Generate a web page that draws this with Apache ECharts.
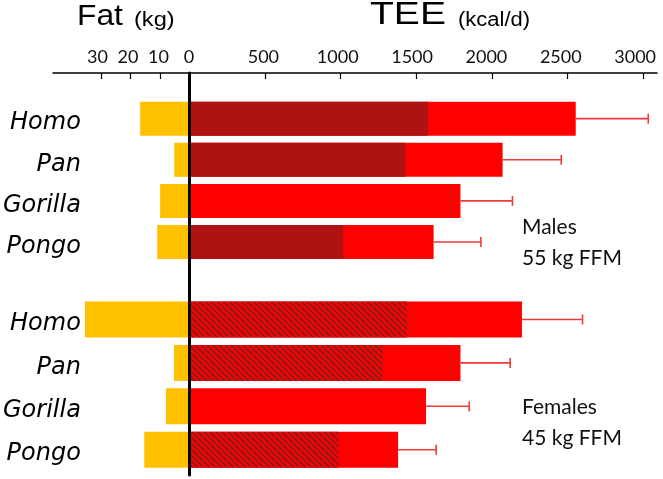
<!DOCTYPE html>
<html>
<head>
<meta charset="utf-8">
<script src="https://cdn.jsdelivr.net/npm/echarts@6/dist/echarts.min.js"></script>
<style>html,body{margin:0;padding:0;background:#fff}#c{width:663px;height:479px}</style>
</head>
<body>
<div id="c"></div>
<script>
// ---- data ----
const categories = ['Homo', 'Pan', 'Gorilla', 'Pongo'];
const maleFat = [17.0, 5.4, 10.2, 11.2];
const maleTotal = [2553, 2069, 1790, 1612];
const maleDark = [1575, 1425, null, 1013];
const maleErrHigh = [3033, 2457, 2134, 1925];
const femaleFat = [35.8, 5.5, 8.2, 15.6];
const femaleTotal = [2197, 1790, 1562, 1377];
const femaleDark = [1436, 1275, null, 983];
const femaleErrHigh = [2598, 2119, 1848, 1629];
const teeTicks = [0, 500, 1000, 1500, 2000, 2500, 3000];
const fatTicks = [10, 20, 30];

// ---- scales (shared across grids) ----
const TEE_MIN = -902, TEE_MAX = 3091;
const FAT_MIN = -159, FAT_MAX = 46.4;
// tick labels in the source sit on a slightly compressed scale
const TEE_LBL_MIN = -914.6, TEE_LBL_MAX = 3147;
const FAT_LBL_MIN = -153.4, FAT_LBL_MAX = 44.6;

const FAT_COLOR = '#FFC000';
const RED = '#FF0000';
const DARK = '#AD1313';
const ERR_COLOR = '#F03A3A';

// hatch pattern for female dark portions
const tile = document.createElement('canvas');
tile.width = 6; tile.height = 6;
(function () {
  const g = tile.getContext('2d');
  g.fillStyle = RED; g.fillRect(0, 0, 6, 6);
  g.strokeStyle = '#8C1C1C'; g.lineWidth = 2.0;
  for (const k of [-6, 0, 6]) {
    g.beginPath(); g.moveTo(k, 0); g.lineTo(k + 6, 6); g.stroke();
  }
})();
const hatch = { image: tile, repeat: 'repeat' };

const tickFont = { fontFamily: 'Lato', fontSize: 18, color: '#111', formatter: v => String(v) };
const catLabel = {
  margin: -27,
  formatter: v => '{t|' + v + '}',
  rich: { t: { fontFamily: 'DejaVu Sans', fontStyle: 'italic', fontSize: 24, color: '#000', padding: [9, 0, 0, 0] } }
};

function hiddenX(grid, fat) {
  return fat
    ? { type: 'value', gridIndex: grid, show: false, inverse: true, min: FAT_MIN, max: FAT_MAX }
    : { type: 'value', gridIndex: grid, show: false, min: TEE_MIN, max: TEE_MAX };
}
function catY(grid) {
  return {
    type: 'category', gridIndex: grid, data: categories, inverse: true,
    axisLine: { show: false }, axisTick: { show: false },
    axisLabel: catLabel
  };
}
function tickAxis(fat) {
  return {
    type: 'value', gridIndex: 0, position: 'top', inverse: fat,
    min: fat ? FAT_MIN : TEE_MIN, max: fat ? FAT_MAX : TEE_MAX,
    axisLine: { show: !fat, onZero: false, lineStyle: { color: '#000', width: 1.5 } },
    axisTick: { show: true, inside: true, length: 6, lineStyle: { color: '#000', width: 1.2 }, customValues: fat ? fatTicks : teeTicks },
    axisLabel: { show: false },
    splitLine: { show: false }
  };
}
function labelAxis(fat) {
  const vals = fat ? fatTicks : teeTicks;
  return {
    type: 'value', gridIndex: 0, position: 'top', inverse: fat,
    min: fat ? FAT_LBL_MIN : TEE_LBL_MIN, max: fat ? FAT_LBL_MAX : TEE_LBL_MAX,
    axisLine: { show: false, onZero: false },
    axisTick: { show: false },
    axisLabel: Object.assign({ margin: 7, customValues: vals }, tickFont),
    splitLine: { show: false }
  };
}
function errSeries(xIdx, yIdx, totals, highs) {
  return {
    type: 'custom', xAxisIndex: xIdx, yAxisIndex: yIdx, z: 3,
    data: totals.map((t, i) => [t, highs[i], i]),
    encode: { x: [0, 1], y: 2 },
    renderItem: function (params, api) {
      const yi = api.value(2);
      const p1 = api.coord([api.value(0), yi]);
      const p2 = api.coord([api.value(1), yi]);
      const st = { stroke: ERR_COLOR, lineWidth: 1.6 };
      return {
        type: 'group', children: [
          { type: 'line', shape: { x1: p1[0], y1: p1[1], x2: p2[0], y2: p2[1] }, style: st },
          { type: 'line', shape: { x1: p2[0], y1: p2[1] - 5, x2: p2[0], y2: p2[1] + 5 }, style: st }
        ]
      };
    }
  };
}
function groupSeries(xTee, xFat, yIdx, fat, total, dark, high, darkColor, bw) {
  return [
    { type: 'bar', xAxisIndex: xFat, yAxisIndex: yIdx, data: fat, barWidth: bw, barGap: '-100%', itemStyle: { color: FAT_COLOR }, silent: true },
    { type: 'bar', xAxisIndex: xTee, yAxisIndex: yIdx, data: total, barWidth: bw, barGap: '-100%', itemStyle: { color: RED }, silent: true },
    { type: 'bar', xAxisIndex: xTee, yAxisIndex: yIdx, data: dark, barWidth: bw, barGap: '-100%', itemStyle: { color: darkColor }, silent: true },
    errSeries(xTee, yIdx, total, high)
  ];
}

const chart = echarts.init(document.getElementById('c'), null, { renderer: 'canvas' });
chart.setOption({
  animation: false,
  backgroundColor: '#fff',
  grid: [
    { left: 53, right: 6, top: 73, bottom: 4 },
    { left: 53, right: 6, top: 98.1, height: 164.5 },
    { left: 53, right: 6, top: 297.8, height: 173.6 }
  ],
  xAxis: [
    tickAxis(false), tickAxis(true),
    hiddenX(1, false), hiddenX(1, true),
    hiddenX(2, false), hiddenX(2, true),
    labelAxis(false), labelAxis(true)
  ],
  yAxis: [
    {
      type: 'value', gridIndex: 0, min: 0, max: 1, z: 10,
      axisLine: { show: true, onZero: true, onZeroAxisIndex: 0, lineStyle: { color: '#000', width: 3 } },
      axisTick: { show: false }, axisLabel: { show: false }, splitLine: { show: false }
    },
    catY(1), catY(2)
  ],
  series: [].concat(
    groupSeries(2, 3, 1, maleFat, maleTotal, maleDark, maleErrHigh, DARK, 34),
    groupSeries(4, 5, 2, femaleFat, femaleTotal, femaleDark, femaleErrHigh, hatch, 36)
  ),
  graphic: [
    { type: 'text', x: 77, y: 16.3, scaleX: 1.06, style: { text: 'Fat', font: '30px "Liberation Sans"', fill: '#000', textVerticalAlign: 'middle' } },
    { type: 'text', x: 134, y: 20, scaleX: 1.18, style: { text: '(kg)', font: '20px "Liberation Sans"', fill: '#000', textVerticalAlign: 'middle' } },
    { type: 'text', x: 370, y: 15.6, scaleX: 1.22, style: { text: 'TEE', font: '32px "Liberation Sans"', fill: '#000', textVerticalAlign: 'middle' } },
    { type: 'text', x: 458, y: 20, scaleX: 1.1, style: { text: '(kcal/d)', font: '20px "Liberation Sans"', fill: '#000', textVerticalAlign: 'middle' } },
    { type: 'text', x: 522, y: 227.5, style: { text: 'Males', font: '21px Lato', fill: '#111', textVerticalAlign: 'middle' } },
    { type: 'text', x: 522, y: 258, style: { text: '55 kg FFM', font: '21px Lato', fill: '#111', textVerticalAlign: 'middle' } },
    { type: 'text', x: 522, y: 407.5, style: { text: 'Females', font: '21px Lato', fill: '#111', textVerticalAlign: 'middle' } },
    { type: 'text', x: 522, y: 437.8, style: { text: '45 kg FFM', font: '21px Lato', fill: '#111', textVerticalAlign: 'middle' } }
  ]
});
</script>
</body>
</html>
